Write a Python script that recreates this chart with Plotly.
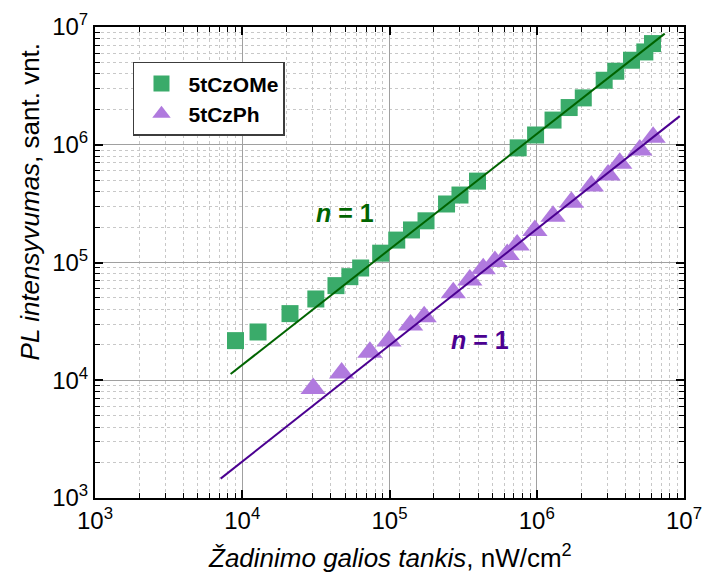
import plotly.graph_objects as go

# ---- data ----
power_czome = [9.0e3, 1.28e4, 2.11e4, 3.16e4, 4.33e4, 5.38e4, 6.37e4, 8.71e4,
               1.12e5, 1.41e5, 1.77e5, 2.44e5, 3.01e5, 3.96e5, 7.48e5, 9.82e5,
               1.29e6, 1.66e6, 2.07e6, 2.87e6, 3.44e6, 4.40e6, 5.42e6, 6.11e6]
pl_czome = [2.17e4, 2.57e4, 3.68e4, 4.90e4, 6.36e4, 7.58e4, 8.98e4, 1.20e5,
            1.55e5, 1.89e5, 2.26e5, 3.14e5, 3.74e5, 4.91e5, 9.41e5, 1.21e6,
            1.62e6, 2.07e6, 2.50e6, 3.53e6, 4.21e6, 5.22e6, 6.14e6, 7.23e6]

power_czph = [3.03e4, 4.73e4, 7.36e4, 9.91e4, 1.39e5, 1.72e5, 2.71e5, 3.51e5,
              4.33e5, 5.20e5, 6.30e5, 7.36e5, 9.71e5, 1.29e6, 1.72e6, 2.35e6,
              3.05e6, 3.66e6, 5.01e6, 6.17e6]
pl_czph = [8.5e3, 1.15e4, 1.73e4, 2.15e4, 2.94e4, 3.46e4, 5.53e4, 7.09e4,
           8.83e4, 1.02e5, 1.17e5, 1.41e5, 1.87e5, 2.47e5, 3.25e5, 4.47e5,
           5.54e5, 6.96e5, 9.02e5, 1.16e6]

fit_czome_x = [8.34e3, 7.40e6]
fit_czome_y = [1.13e4, 8.79e6]
fit_czph_x = [7.13e3, 9.36e6]
fit_czph_y = [1.46e3, 1.75e6]

decades = [3, 4, 5, 6, 7]
tick_vals = [10 ** d for d in decades]
tick_text = [f"10<sup>{d}</sup>" for d in decades]
series_names = ["5tCzOMe", "5tCzPh"]
slope_label = "<b><i>n</i> = 1</b>"

# ---- styles ----
FONT = "Liberation Sans, Arial, sans-serif"
green_marker = "rgb(58,171,106)"
green_line = "rgb(0,100,0)"
purple_marker = "rgb(176,122,222)"
purple_line = "rgb(75,0,145)"

minor_vals = [m * 10 ** d for d in decades[:-1] for m in range(2, 10)]

fig = go.Figure()
fig.add_trace(go.Scatter(x=power_czome, y=pl_czome, mode="markers", name="<b>%s</b>" % series_names[0],
                         marker=dict(symbol="square", size=17, color=green_marker,
                                     line=dict(width=0))))
fig.add_trace(go.Scatter(x=power_czph, y=pl_czph, mode="markers", name="<b>%s</b>" % series_names[1],
                         marker=dict(symbol="triangle-up", size=22, color=purple_marker,
                                     line=dict(width=0))))
fig.add_trace(go.Scatter(x=fit_czome_x, y=fit_czome_y, mode="lines", showlegend=False,
                         line=dict(color=green_line, width=2)))
fig.add_trace(go.Scatter(x=fit_czph_x, y=fit_czph_y, mode="lines", showlegend=False,
                         line=dict(color=purple_line, width=2)))

axis_common = dict(
    type="log", range=[3, 7], tickvals=tick_vals, ticktext=tick_text,
    ticks="inside", ticklen=8, tickwidth=1.5, tickcolor="black",
    showline=True, linecolor="black", linewidth=2, mirror="allticks",
    showgrid=True, gridcolor="rgb(160,160,160)", gridwidth=1,
    zeroline=False, automargin=False, ticklabeloverflow="allow",
    tickfont=dict(family=FONT, size=24, color="black"),
    minor=dict(tickvals=minor_vals, ticks="inside", ticklen=5, tickwidth=1.2,
               tickcolor="black", showgrid=True, gridcolor="rgb(200,200,200)",
               griddash="dot", gridwidth=1),
)
fig.update_xaxes(**axis_common)
fig.update_yaxes(**axis_common)

fig.update_layout(
    width=702, height=578,
    margin=dict(l=95, r=18, t=27, b=80, autoexpand=False),
    paper_bgcolor="white", plot_bgcolor="white",
    font=dict(family=FONT, color="black"),
    legend=dict(x=0.0645, y=0.926, xanchor="left", yanchor="top",
                bgcolor="white", bordercolor="rgb(60,60,60)", borderwidth=1.5,
                font=dict(family=FONT, size=21, color="black"),
                itemwidth=44, tracegroupgap=0),
    annotations=[
        dict(text=slope_label, xref="paper", yref="paper", x=0.4245, y=0.605,
             showarrow=False, xanchor="center", yanchor="middle",
             font=dict(family=FONT, size=25, color=green_line)),
        dict(text=slope_label, xref="paper", yref="paper", x=0.6537, y=0.3355,
             showarrow=False, xanchor="center", yanchor="middle",
             font=dict(family=FONT, size=25, color=purple_line)),
        dict(text="<i>PL intensyvumas</i>, sant. vnt.", xref="paper", yref="paper",
             x=-0.110, y=0.628, textangle=-90, showarrow=False,
             xanchor="center", yanchor="middle",
             font=dict(family=FONT, size=26, color="black")),
        dict(text="<i>Žadinimo galios tankis</i>, nW/cm<sup>2</sup>", xref="paper", yref="paper",
             x=0.5, y=-0.125, showarrow=False, xanchor="center", yanchor="middle",
             font=dict(family=FONT, size=26, color="black")),
    ],
)

fig.write_html(
    "out.html",
    config={"displayModeBar": False},
    post_script="document.body.style.margin='0';document.body.style.overflow='hidden';",
)
